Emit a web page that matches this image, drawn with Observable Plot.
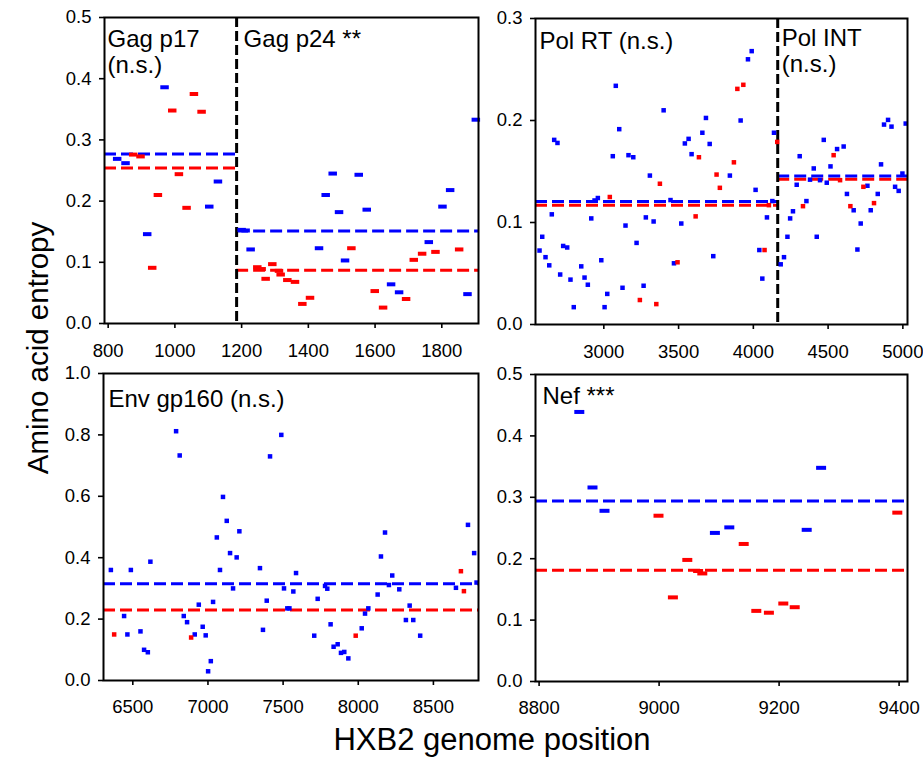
<!DOCTYPE html>
<html>
<head>
<meta charset="utf-8">
<script src="https://cdn.jsdelivr.net/npm/d3@7"></script>
<script src="https://cdn.jsdelivr.net/npm/@observablehq/plot@0.6"></script>
<style>
  body { margin: 0; background: #fff; }
  #wrap { position: relative; width: 923px; height: 760px; overflow: hidden; background: #fff;
          font-family: "Liberation Sans", Arial, Helvetica, sans-serif; }
  .panel { position: absolute; }
  #titles { position: absolute; left: 0; top: 0; pointer-events: none; }
</style>
</head>
<body>
<div id="wrap"></div>
<script>
// ---------------- DATA ----------------
const yTitle = "Amino acid entropy";
const xTitle = "HXB2 genome position";

// Gag (p17 | p24)
const gagLabels = ["Gag p17\n(n.s.)", "Gag p24 **"];
const gagBoundary = 1185;
const gagXTicks = [800, 1000, 1200, 1400, 1600, 1800];
const gagYTicks = [0, 0.1, 0.2, 0.3, 0.4, 0.5];
const gagMeans = [
  {x1: 789, x2: 1185, blue: 0.277, red: 0.254},
  {x1: 1185, x2: 1910, blue: 0.151, red: 0.087}
];
const gagBlue = [[827,0.269],[852,0.262],[917,0.146],[969,0.386],[1103,0.191],[1129,0.232],
  [1200,0.153],[1212,0.152],[1227,0.121],[1432,0.123],[1452,0.210],[1473,0.245],[1492,0.182],
  [1510,0.103],[1551,0.243],[1575,0.186],[1648,0.064],[1672,0.051],[1761,0.133],[1802,0.191],
  [1825,0.218],[1877,0.048],[1902,0.333]];
const gagRed = [[875,0.276],[897,0.273],[932,0.091],[949,0.210],[992,0.348],[1012,0.244],
  [1035,0.189],[1057,0.375],[1080,0.346],[1247,0.092],[1260,0.089],[1272,0.073],[1292,0.097],
  [1312,0.086],[1317,0.080],[1337,0.071],[1360,0.068],[1382,0.032],[1405,0.042],[1529,0.123],
  [1599,0.053],[1624,0.026],[1693,0.040],[1716,0.104],[1741,0.114],[1781,0.117],[1852,0.121]];

// Pol (RT | INT)
const polLabels = ["Pol RT (n.s.)", "Pol INT\n(n.s.)"];
const polBoundary = 4163;
const polXTicks = [3000, 3500, 4000, 4500, 5000];
const polYTicks = [0, 0.1, 0.2, 0.3];
const polMeans = [
  {x1: 2543, x2: 4163, blue: 0.1205, red: 0.117},
  {x1: 4163, x2: 5031, blue: 0.1456, red: 0.1424}
];
const polBlue = [[2570,0.0725],[2588,0.086],[2610,0.066],[2635,0.058],[2652,0.108],[2668,0.181],
  [2690,0.178],[2708,0.049],[2728,0.077],[2755,0.0755],[2777,0.044],[2799,0.017],[2849,0.057],
  [2871,0.046],[2893,0.039],[2916,0.104],[2938,0.1216],[2960,0.124],[2983,0.063],[3005,0.017],
  [3023,0.030],[3060,0.165],[3080,0.234],[3103,0.1915],[3125,0.036],[3145,0.097],[3165,0.166],
  [3197,0.164],[3219,0.080],[3266,0.038],[3281,0.105],[3308,0.146],[3333,0.101],[3400,0.210],
  [3446,0.122],[3469,0.060],[3518,0.099],[3542,0.1775],[3567,0.182],[3587,0.167],[3659,0.188],
  [3683,0.2025],[3708,0.177],[3732,0.067],[3843,0.146],[3915,0.200],[3964,0.260],[3989,0.268],
  [4015,0.132],[4040,0.073],[4060,0.045],[4091,0.105],[4127,0.121],[4138,0.188],
  [4183,0.059],[4205,0.066],[4228,0.086],[4246,0.104],[4265,0.111],[4290,0.137],[4310,0.165],
  [4355,0.121],[4379,0.142],[4404,0.153],[4424,0.086],[4446,0.1415],[4471,0.181],[4491,0.139],
  [4516,0.155],[4560,0.172],[4604,0.1745],[4626,0.128],[4671,0.112],[4696,0.0735],[4718,0.099],
  [4763,0.136],[4785,0.112],[4832,0.128],[4854,0.157],[4874,0.196],[4901,0.2006],[4924,0.194],
  [4948,0.135],[4972,0.131],[4997,0.148],[5019,0.197]];
const polRed = [[3040,0.125],[3241,0.024],[3351,0.020],[3375,0.138],[3493,0.061],[3614,0.106],
  [3636,0.164],[3754,0.147],[3776,0.134],[3870,0.159],[3893,0.231],[3933,0.235],[4075,0.073],
  [4104,0.117],[4160,0.179],[4332,0.116],[4537,0.166],[4580,0.1415],[4649,0.116],[4736,0.135],
  [4807,0.119]];

// Env gp160
const envLabels = ["Env gp160 (n.s.)"];
const envXTicks = [6500, 7000, 7500, 8000, 8500];
const envYTicks = [0, 0.2, 0.4, 0.6, 0.8, 1.0];
const envMeans = [{x1: 6305, x2: 8800, blue: 0.315, red: 0.23}];
const envBlue = [[6354,0.36],[6442,0.21],[6464,0.15],[6487,0.36],[6551,0.16],[6575,0.10],
  [6600,0.092],[6617,0.387],[6788,0.812],[6812,0.733],[6839,0.21],[6861,0.19],[6912,0.15],
  [6939,0.247],[6965,0.175],[6985,0.147],[7001,0.03],[7019,0.063],[7034,0.256],[7059,0.466],
  [7080,0.36],[7100,0.598],[7125,0.52],[7147,0.415],[7167,0.30],[7191,0.401],[7209,0.486],
  [7346,0.366],[7366,0.165],[7391,0.26],[7413,0.73],[7488,0.80],[7506,0.30],[7528,0.235],
  [7542,0.235],[7568,0.29],[7586,0.35],[7707,0.146],[7730,0.266],[7779,0.308],[7794,0.299],
  [7816,0.183],[7836,0.110],[7863,0.118],[7885,0.090],[7907,0.093],[7934,0.072],[8023,0.170],
  [8045,0.218],[8067,0.235],[8129,0.28],[8151,0.404],[8178,0.482],[8204,0.311],[8226,0.342],
  [8273,0.297],[8317,0.197],[8342,0.244],[8366,0.197],[8412,0.146],[8650,0.302],[8730,0.507],
  [8771,0.415],[8787,0.319]];
const envRed = [[6376,0.15],[6888,0.14],[7983,0.146],[8683,0.356],[8703,0.291]];

// Nef
const nefLabels = ["Nef ***"];
const nefXTicks = [8800, 9000, 9200, 9400];
const nefYTicks = [0, 0.1, 0.2, 0.3, 0.4, 0.5];
const nefMeans = [{x1: 8794, x2: 9414, blue: 0.294, red: 0.181}];
const nefBlue = [[8867,0.439],[8889,0.316],[8909,0.278],[9093,0.242],[9117,0.251],[9246,0.247],
  [9270,0.348]];
const nefRed = [[8999,0.270],[9023,0.137],[9047,0.198],[9065,0.180],[9072,0.176],[9141,0.224],
  [9162,0.115],[9183,0.112],[9207,0.127],[9226,0.121],[9397,0.275]];

// ---------------- DRAWING ----------------
const BLUE = "#0000ff", RED = "#ff0000";
const FONT = "'Liberation Sans', Arial, Helvetica, sans-serif";
const rectSymbol = (w, h) => ({ draw(ctx) { ctx.rect(-w / 2, -h / 2, w, h); } });

function panel(o) {
  const marks = [];
  for (const key of ["red", "blue"]) {
    marks.push(Plot.ruleY(o.means, {
      x1: "x1", x2: "x2", y: key,
      stroke: key === "blue" ? BLUE : RED, strokeWidth: 3, strokeDasharray: "12,5"
    }));
  }
  if (o.boundary != null) {
    marks.push(Plot.ruleX([o.boundary], {stroke: "black", strokeWidth: 3, strokeDasharray: "10,4"}));
  }
  const sym = rectSymbol(o.mw, o.mh);
  marks.push(Plot.dot(o.blue, {x: d => d[0], y: d => d[1], fill: BLUE, stroke: "none", symbol: sym, r: 3}));
  marks.push(Plot.dot(o.red, {x: d => d[0], y: d => d[1], fill: RED, stroke: "none", symbol: sym, r: 3}));
  marks.push(Plot.frame({stroke: "black", strokeWidth: 2}));
  marks.push(Plot.axisX({ticks: o.xTicks, tickSize: 5, tickPadding: o.xPad, tickFormat: d => String(d),
    fontSize: 18.5, strokeWidth: 1.6, label: null}));
  marks.push(Plot.axisY({ticks: o.yTicks, tickSize: 5, tickPadding: 8, tickFormat: d3.format(".1f"),
    fontSize: 18.5, strokeWidth: 1.6, label: null}));
  // first label: top-left of frame
  marks.push(Plot.text([o.labels[0]], {
    frameAnchor: "top-left", textAnchor: "start", lineAnchor: "top",
    dx: o.l0[0], dy: o.l0[1], fontSize: 24, lineHeight: 1.05, fill: "black"
  }));
  if (o.labels.length > 1) {
    marks.push(Plot.text([o.boundary], {
      x: d => d, frameAnchor: "top", textAnchor: "start", lineAnchor: "top",
      text: () => o.labels[1], dx: o.l1[0], dy: o.l1[1], fontSize: 24, lineHeight: 1.05, fill: "black"
    }));
  }
  const svg = Plot.plot({
    width: o.width, height: o.height,
    marginLeft: o.m[0], marginTop: o.m[1], marginRight: o.m[2], marginBottom: o.m[3],
    x: {domain: o.xDomain},
    y: {domain: o.yDomain},
    style: {fontFamily: FONT, color: "black", background: "transparent", overflow: "visible"},
    marks
  });
  svg.classList.add("panel");
  svg.style.left = o.left + "px";
  svg.style.top = o.top + "px";
  document.getElementById("wrap").appendChild(svg);
}

panel({left: 0, top: 0, width: 490, height: 380, m: [104, 17, 12, 57],
  xDomain: [789, 1910], yDomain: [0, 0.5], xTicks: gagXTicks, yTicks: gagYTicks, xPad: 15,
  means: gagMeans, boundary: gagBoundary, blue: gagBlue, red: gagRed, mw: 8.5, mh: 4,
  labels: gagLabels, l0: [3, 12], l1: [7, 12]});

panel({left: 480, top: 0, width: 443, height: 380, m: [55, 18, 16, 56],
  xDomain: [2543, 5031], yDomain: [0, 0.3], xTicks: polXTicks, yTicks: polYTicks, xPad: 15,
  means: polMeans, boundary: polBoundary, blue: polBlue, red: polRed, mw: 4.5, mh: 4.5,
  labels: polLabels, l0: [4, 13], l1: [4, 10]});

panel({left: 0, top: 360, width: 490, height: 400, m: [103, 13, 12, 80],
  xDomain: [6305, 8800], yDomain: [0, 1.0], xTicks: envXTicks, yTicks: envYTicks, xPad: 14,
  means: envMeans, boundary: null, blue: envBlue, red: envRed, mw: 4.5, mh: 4.5,
  labels: envLabels, l0: [5, 16]});

panel({left: 480, top: 360, width: 443, height: 400, m: [55, 14, 16, 79],
  xDomain: [8794, 9414], yDomain: [0, 0.5], xTicks: nefXTicks, yTicks: nefYTicks, xPad: 14,
  means: nefMeans, boundary: null, blue: nefBlue, red: nefRed, mw: 10, mh: 4,
  labels: nefLabels, l0: [7, 12]});

// Shared axis titles
const t = d3.select("#wrap").append("svg").attr("id", "titles").attr("width", 923).attr("height", 760);
t.append("text").attr("x", 492).attr("y", 750).attr("text-anchor", "middle")
  .attr("font-family", FONT).attr("font-size", 31).attr("fill", "black").text(xTitle);
t.append("text").attr("transform", "translate(48,348) rotate(-90)").attr("text-anchor", "middle")
  .attr("font-family", FONT).attr("font-size", 29.5).attr("fill", "black").text(yTitle);
</script>
</body>
</html>
